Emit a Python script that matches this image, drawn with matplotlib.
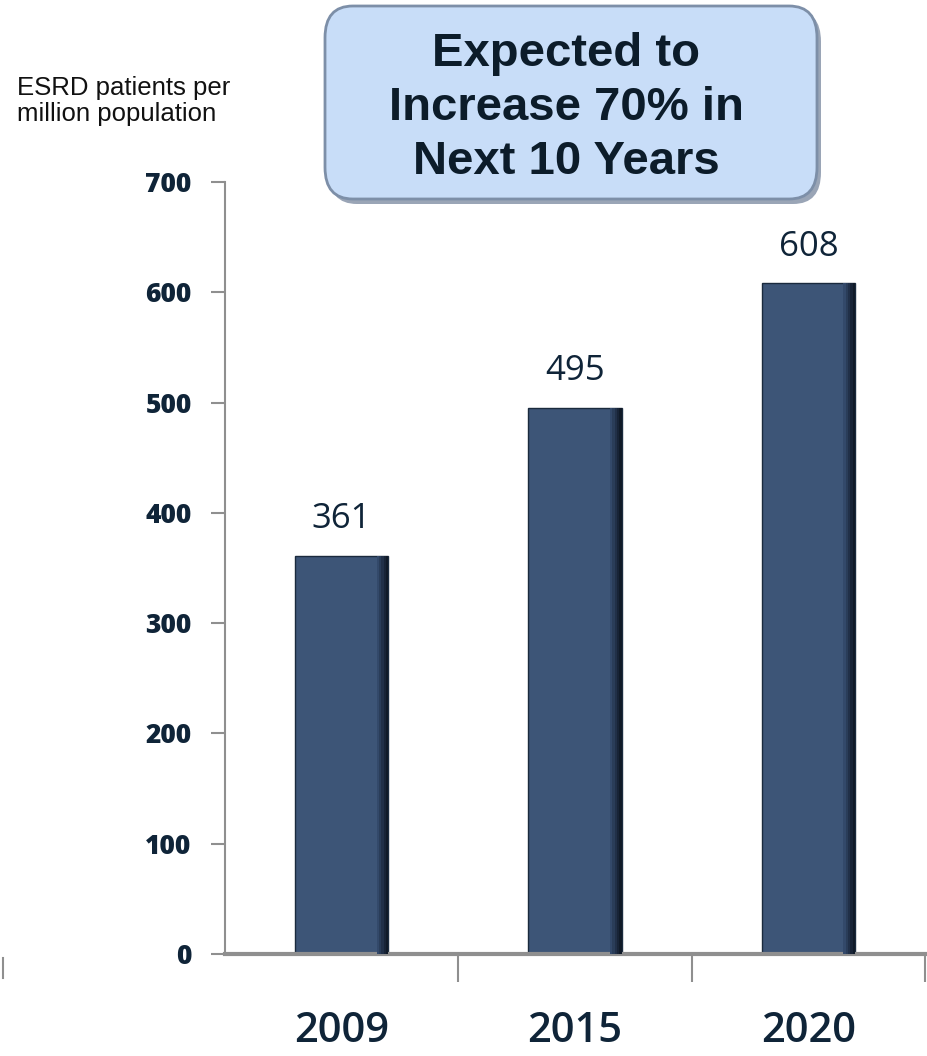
import matplotlib.pyplot as plt
from matplotlib.patches import FancyBboxPatch
from matplotlib.lines import Line2D

years = ["2009", "2015", "2020"]
patients = [361, 495, 608]
yticks = [0, 100, 200, 300, 400, 500, 600, 700]

navy = "#0f2438"
bar_color = "#3d5577"
axis_gray = "#8f8f8f"

fig = plt.figure(figsize=(9.27, 10.56), dpi=100)
ax = fig.add_axes([225 / 927, 1 - 954 / 1056, 700 / 927, 772 / 1056])

x = list(range(len(years)))
ax.bar(x, patients, width=0.4, color=bar_color, edgecolor="#1a2a3d", linewidth=1.0, zorder=2)

# darker right edge, a bit like the bevelled bars of the original
shades = ["#33496a", "#2a3d59", "#213048", "#182437", "#101a28"]
for k, c in enumerate(shades):
    ax.bar([xi + 0.15 + k * 0.01 for xi in x], patients, width=0.01, color=c,
           linewidth=0, align="edge", zorder=3)

# value labels
for xi, v in zip(x, patients):
    ax.text(xi, v + 18, str(v), ha="center", va="bottom", fontsize=25,
            family="Open Sans", color=navy)

ax.set_xlim(-0.5, 2.5)
ax.set_ylim(0, 700)
ax.set_yticks(yticks)
ax.set_yticklabels([str(t) for t in yticks], fontsize=19, fontweight="heavy",
                   family="Open Sans", color=navy)
ax.set_xticks([0.5, 1.5, 2.5])
ax.set_xticklabels([])
ax.set_xticks(x, minor=True)
ax.set_xticklabels(years, minor=True, fontsize=30, fontweight="semibold",
                   family="Open Sans", color=navy)
ax.tick_params(axis="x", which="major", length=20, width=1.5, color=axis_gray, direction="out")
ax.tick_params(axis="x", which="minor", length=0, pad=40)
ax.tick_params(axis="y", length=10, width=1.5, color=axis_gray, pad=14)

for s in ["top", "right"]:
    ax.spines[s].set_visible(False)
ax.spines["left"].set_color(axis_gray)
ax.spines["left"].set_linewidth(1.5)
ax.spines["bottom"].set_color(axis_gray)
ax.spines["bottom"].set_linewidth(3)

# stray axis line on the left edge
fig.add_artist(Line2D([3 / 927, 3 / 927], [1 - 958 / 1056, 1 - 978 / 1056],
                      color=axis_gray, lw=1.5))

fig.text(17 / 927, 1 - 101 / 1056, "ESRD patients per\nmillion population",
         fontsize=18.5, family="Liberation Sans", color="#111111", ha="left",
         va="center", linespacing=1.1)

# callout box
shadow = FancyBboxPatch((329 / 927, 1 - 204 / 1056), 492 / 927, 194 / 1056,
                        boxstyle="round,pad=0,rounding_size=0.03",
                        transform=fig.transFigure, facecolor="#6f7f98",
                        edgecolor="none", alpha=0.7)
box = FancyBboxPatch((325 / 927, 1 - 199 / 1056), 492 / 927, 193 / 1056,
                     boxstyle="round,pad=0,rounding_size=0.03",
                     transform=fig.transFigure, facecolor="#c8ddf8",
                     edgecolor="#7d8fa8", linewidth=2)
fig.add_artist(shadow)
fig.add_artist(box)
fig.text(566 / 927, 1 - 108 / 1056, "Expected to\nIncrease 70% in\nNext 10 Years",
         ha="center", va="center", fontsize=34, fontweight="bold",
         family="Liberation Sans", color="#0c1c2a", linespacing=1.3)

fig.savefig("out.png", dpi=100)
